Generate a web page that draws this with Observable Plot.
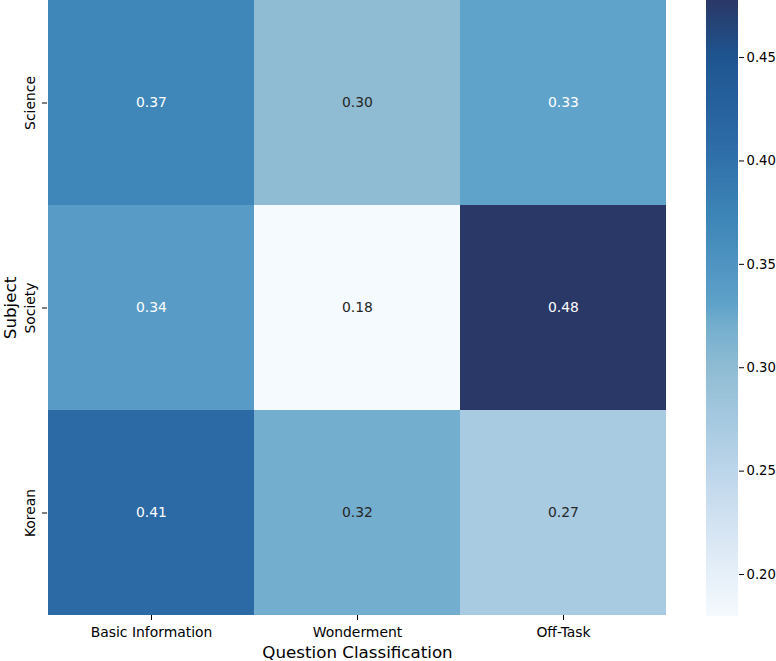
<!DOCTYPE html>
<html>
<head>
<meta charset="utf-8">
<script src="https://cdn.jsdelivr.net/npm/d3@7"></script>
<script src="https://cdn.jsdelivr.net/npm/@observablehq/plot@0.6"></script>
<style>
  html, body { margin: 0; padding: 0; background: #fff; }
  #wrap { position: relative; width: 776px; height: 661px; font-family: "DejaVu Sans", sans-serif; }
  #main { position: absolute; left: 0; top: 0; }
  #cbar { position: absolute; left: 706px; top: 0; }
</style>
</head>
<body>
<div id="wrap"><div id="main"></div><div id="cbar"></div></div>
<script>
const subjects = ["Science", "Society", "Korean"];
const classes = ["Basic Information", "Wonderment", "Off-Task"];
const science = [0.37, 0.30, 0.33];
const society = [0.34, 0.1797, 0.4776];
const korean = [0.41, 0.32, 0.27];
const cbTicks = [0.20, 0.25, 0.30, 0.35, 0.40, 0.45];
const colorStops = [0.1797, 0.22, 0.25, 0.27, 0.30, 0.32, 0.33, 0.34, 0.37, 0.41, 0.45, 0.4776];
const colorRange = ["#f5fafe", "#d6e5f3", "#bcd5ea", "#a9cbe2", "#8fbcd3", "#74aece", "#5fa3ca", "#579bc6", "#3f87b8", "#2c6aa6", "#1e5590", "#2a3867"];

const rows = {Science: science, Society: society, Korean: korean};
const cells = [];
for (const s of subjects) classes.forEach((c, i) => cells.push({subject: s, cls: c, value: rows[s][i]}));

const colorOpts = {type: "linear", domain: colorStops, range: colorRange, interpolate: "rgb"};
const lo = colorStops[0], hi = colorStops[colorStops.length - 1];
const darkText = v => v < 0.325;

const main = Plot.plot({
  width: 690, height: 661,
  marginLeft: 47, marginRight: 23, marginTop: 0, marginBottom: 46,
  style: {fontFamily: "DejaVu Sans, sans-serif", fontSize: "14px", color: "#000", background: "#fff"},
  x: {domain: classes, padding: 0, label: null},
  y: {domain: subjects, padding: 0, label: null},
  color: colorOpts,
  marks: [
    Plot.cell(cells, {x: "cls", y: "subject", fill: "value", inset: 0}),
    Plot.text(cells, {x: "cls", y: "subject", text: d => d.value.toFixed(2),
      fill: d => darkText(d.value) ? "#262626" : "#ffffff", fontSize: 13.9}),
    Plot.axisX({tickSize: 5, tickPadding: 7, fontSize: 13.9, label: null}),
    Plot.axisY({tickSize: 5, tickPadding: 8, tickRotate: -90, fontSize: 13.9, label: null}),
    Plot.text(["Question Classification"], {frameAnchor: "bottom", dy: 42, fontSize: 16.7, fill: "#000"}),
    Plot.text(["Subject"], {frameAnchor: "left", dx: -37, rotate: -90, textAnchor: "middle", fontSize: 16.7, fill: "#000"})
  ]
});
document.getElementById("main").appendChild(main);

const N = 400;
const slices = d3.range(N).map(i => ({y1: lo + (hi - lo) * i / N, y2: lo + (hi - lo) * (i + 1) / N}));
const cbar = Plot.plot({
  width: 70, height: 661,
  marginLeft: 0, marginRight: 38, marginTop: 0, marginBottom: 45,
  style: {fontFamily: "DejaVu Sans, sans-serif", fontSize: "13px", color: "#000", background: "#fff"},
  x: {domain: [0, 1], axis: null},
  y: {domain: [lo, hi], label: null},
  color: colorOpts,
  marks: [
    Plot.rect(slices, {x1: 0, x2: 1, y1: "y1", y2: "y2", fill: d => (d.y1 + d.y2) / 2, inset: 0, shapeRendering: "crispEdges"}),
    Plot.axisY({anchor: "right", ticks: cbTicks, tickFormat: d3.format(".2f"), tickSize: 5, tickPadding: 3, fontSize: 13.2, label: null})
  ]
});
document.getElementById("cbar").appendChild(cbar);
</script>
</body>
</html>
